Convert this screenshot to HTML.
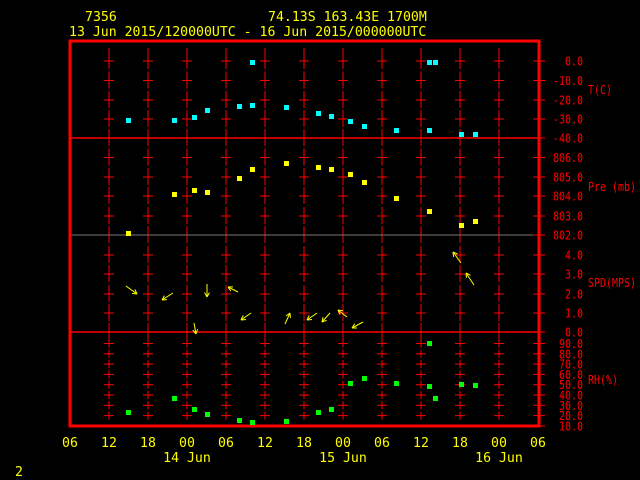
<!DOCTYPE html>
<html><head><style>
html,body{margin:0;padding:0;background:#000;width:640px;height:480px;overflow:hidden}
svg{display:block}
text{font-family:"DejaVu Sans Mono","Liberation Mono",monospace}
.y{font-size:13.2px}
.r{font-size:12.5px}
</style></head><body>
<svg width="640" height="480" xmlns="http://www.w3.org/2000/svg">
<g fill="#ffff00" class="y">
<text x="85" y="21">7356</text>
<text x="268" y="21">74.13S  163.43E  1700M</text>
<text x="69" y="36">13 Jun 2015/120000UTC - 16 Jun 2015/000000UTC</text>
</g>
<g id="grid" stroke="#ff0000" stroke-width="1"></g>
<line x1="70" y1="235" x2="538" y2="235" stroke="#777" stroke-width="1"/>
<line x1="70" y1="138" x2="538" y2="138" stroke="#f00" stroke-width="1.5"/>
<line x1="70" y1="332" x2="538" y2="332" stroke="#f00" stroke-width="1.5"/>
<rect x="70" y="41" width="469" height="385" fill="none" stroke="#f00" stroke-width="3"/>
<g id="rt" stroke="#f00" stroke-width="1"></g>
<g id="rl" fill="#ff0000" class="r"></g>
<g id="xl" fill="#ffff00" text-anchor="middle" class="y"></g>
<g fill="#ffff00" text-anchor="middle" class="y">
<text x="187" y="462">14 Jun</text>
<text x="343" y="462">15 Jun</text>
<text x="499" y="462">16 Jun</text>
</g>
<text x="15" y="476" fill="#ffff00" class="y">2</text>
<g id="pts"></g>
<g id="arr" stroke="#ffff00" stroke-width="1" fill="none"></g>
</svg>
<script>
const NS="http://www.w3.org/2000/svg";
function el(p,t,a,txt){const e=document.createElementNS(NS,t);for(const k in a)e.setAttribute(k,a[k]);if(txt!==undefined)e.textContent=txt;document.getElementById(p).appendChild(e);return e;}
function rt(x,y,s){el('rl','text',{x:x,y:y,textLength:s.length*6,lengthAdjust:'spacingAndGlyphs'},s);}
const xs=[];for(let i=0;i<13;i++)xs.push(70+i*39);
const ys=[];
[61,80.5,100,119,138].forEach(y=>ys.push(y));
[157.5,177,196,216,235].forEach(y=>ys.push(y));
[255,274,294,313,332].forEach(y=>ys.push(y));
for(let i=0;i<9;i++)ys.push(343.5+i*10.3);
for(let i=1;i<12;i++){const x=xs[i];
 ys.forEach((y,j)=>{
  if(y<60||y>427)return;
  if(y<343){el('grid','line',{x1:x,y1:y-9,x2:x,y2:y+8});}
  else if(y<420){el('grid','line',{x1:x,y1:y-4,x2:x,y2:y+4});}
  if(y!==138&&y!==235&&y!==332&&y<420)el('grid','line',{x1:x-5,y1:y,x2:x+5,y2:y});
 });
 el('grid','line',{x1:x,y1:48,x2:x,y2:54});
}
const labs=["0.0","-10.0","-20.0","-30.0","-40.0","806.0","805.0","804.0","803.0","802.0","4.0","3.0","2.0","1.0","0.0","90.0","80.0","70.0","60.0","50.0","40.0","30.0","20.0","10.0"];
ys.forEach((y,j)=>{el('rt','line',{x1:533,y1:y,x2:545,y2:y});rt(583-labs[j].length*6,y+4.5,labs[j]);});
rt(588,94,"T(C)");rt(588,191,"Pre (mb)");rt(588,287,"SPD(MPS)");rt(588,384,"RH(%)");
["06","12","18","00","06","12","18","00","06","12","18","00","06"].forEach((t,i)=>el('xl','text',{x:xs[i],y:447},t));
function sq(c,arr){arr.forEach(p=>el('pts','rect',{x:p[0]-2,y:p[1]-2,width:5,height:5,fill:c}));}
sq('#00ffff',[[128,120],[174,120],[194,117],[207,110],[239,106],[252,105],[252,62],[286,107],[318,113],[331,116],[350,121],[364,126],[396,130],[429,130],[429,62],[435,62],[461,134],[475,134]]);
sq('#ffff00',[[128,233],[174,194],[194,190],[207,192],[239,178],[252,169],[286,163],[318,167],[331,169],[350,174],[364,182],[396,198],[429,211],[461,225],[475,221]]);
sq('#00ff00',[[128,412],[174,398],[194,409],[207,414],[239,420],[252,422],[286,421],[318,412],[331,409],[350,383],[364,378],[396,383],[429,343],[429,386],[435,398],[461,384],[475,385]]);
function arrow(x1,y1,x2,y2){el('arr','line',{x1,y1,x2,y2});const a=Math.atan2(y2-y1,x2-x1);
 [0.5,-0.5].forEach(d=>{el('arr','line',{x1:x2,y1:y2,x2:x2-5*Math.cos(a+d),y2:y2-5*Math.sin(a+d)});});}
[[126,286,137,294],[173,293,162,300],[207,284,207,297],[238,292,228,287],[194,323,196,334],[251,313,241,320],[285,324,290,313],[317,313,307,320],[330,313,322,322],[347,317,338,310],[363,322,352,328],[461,263,453,252],[474,285,466,273]].forEach(a=>arrow(...a));
</script>
</body></html>
